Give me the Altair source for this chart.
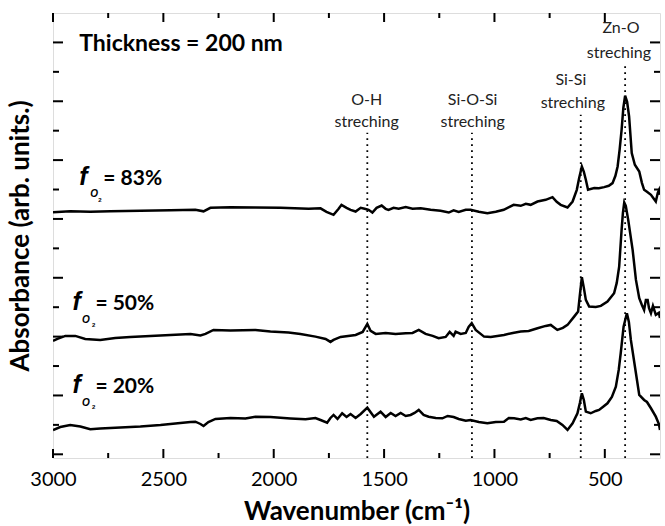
import altair as alt
import pandas as pd

# ---------------- data ----------------
wn_83 = [3000, 2922, 2831, 2740, 2604, 2468, 2355, 2318, 2287, 2196, 2083, 1969, 1842, 1788, 1761,
         1729, 1706, 1693, 1670, 1652, 1629, 1606, 1588, 1570, 1553, 1534, 1511, 1493, 1480, 1457,
         1434, 1402, 1371, 1334, 1289, 1244, 1207, 1185, 1162, 1130, 1108, 1071, 1032, 994, 958,
         913, 881, 858, 836, 805, 768, 737, 718, 700, 669, 646, 627, 616, 604, 595, 586, 576, 548,
         527, 503, 482, 465, 452, 442, 433, 424, 416, 408, 399, 390, 378, 364, 344, 332, 322, 309,
         291, 278, 269, 260, 254, 250]
ab_83 = [24.55, 24.65, 24.6, 24.65, 24.7, 24.75, 24.8, 24.65, 25.0, 25.05, 25.03, 25.0, 24.9, 24.95, 24.6,
         24.3, 24.9, 25.3, 25.0, 24.8, 24.63, 25.0, 24.9, 24.8, 24.53, 25.0, 25.23, 24.9, 24.8, 25.0,
         24.9, 25.07, 24.9, 24.95, 24.8, 24.7, 24.53, 24.75, 24.6, 24.8, 24.8, 24.6, 24.47, 24.6, 24.8,
         25.3, 25.2, 25.4, 25.3, 25.63, 25.8, 26.07, 25.6, 25.3, 25.03, 25.63, 26.8, 28.0, 29.13, 28.6,
         27.8, 26.8, 26.97, 26.95, 27.07, 27.2, 27.47, 28.2, 29.13, 30.8, 32.8, 35.0, 36.2, 35.6, 34.13,
         30.47, 29.3, 28.63, 27.5, 26.8, 26.6, 26.3, 25.9, 25.63, 26.5, 26.8, 26.3]

wn_50 = [3000, 2980, 2944, 2899, 2854, 2786, 2718, 2650, 2559, 2468, 2377, 2332, 2309, 2273, 2196,
         2083, 2015, 1933, 1879, 1811, 1765, 1743, 1729, 1697, 1629, 1597, 1576, 1561, 1538, 1493,
         1448, 1402, 1371, 1343, 1312, 1280, 1253, 1221, 1203, 1185, 1176, 1153, 1130, 1117, 1103,
         1085, 1047, 1017, 957, 917, 881, 845, 805, 768, 745, 715, 690, 669, 639, 621, 613, 604,
         595, 586, 571, 541, 518, 488, 458, 446, 435, 424, 418, 412, 405, 394, 374, 359, 344, 332,
         322, 314, 306, 300, 291, 282, 269, 255, 250]
ab_50 = [11.7, 11.9, 12.2, 12.2, 11.9, 11.8, 12.0, 12.1, 12.2, 12.3, 12.4, 12.25, 12.4, 12.8, 12.75,
         12.8, 12.65, 12.53, 12.4, 12.13, 11.9, 11.6, 11.8, 12.1, 12.3, 12.6, 13.4, 12.7, 12.4, 12.5,
         12.4, 12.47, 12.5, 12.8, 12.4, 12.2, 11.97, 12.1, 12.6, 12.2, 12.63, 12.4, 12.5, 13.1, 13.47,
         12.8, 12.13, 12.1, 12.3, 12.5, 12.63, 12.7, 12.97, 13.2, 13.3, 12.8, 13.0, 13.3, 14.13, 14.63,
         16.3, 18.07, 17.0, 15.8, 15.13, 15.1, 15.2, 15.63, 16.47, 17.5, 19.13, 22.8, 24.5, 25.53, 25.2,
         23.8, 20.8, 17.8, 15.97, 15.3, 14.8, 15.8, 15.8, 15.0, 14.47, 15.2, 14.3, 14.5, 14.0]

wn_20 = [3000, 2967, 2922, 2876, 2831, 2786, 2695, 2604, 2513, 2423, 2377, 2355, 2332, 2318, 2296,
         2264, 2196, 2128, 2083, 2015, 1924, 1856, 1811, 1788, 1758, 1743, 1729, 1711, 1690, 1670,
         1652, 1629, 1606, 1576, 1546, 1516, 1493, 1470, 1448, 1425, 1402, 1380, 1362, 1343, 1321,
         1298, 1266, 1236, 1212, 1185, 1162, 1130, 1108, 1071, 1032, 994, 957, 935, 911, 881, 858,
         836, 805, 777, 745, 718, 692, 669, 646, 624, 613, 604, 595, 586, 564, 541, 526, 509, 488,
         468, 450, 437, 428, 415, 400, 391, 382, 359, 344, 322, 309, 291, 269, 255, 250]
ab_20 = [2.8, 3.1, 3.3, 3.15, 2.87, 2.95, 3.05, 3.15, 3.3, 3.5, 3.6, 3.63, 3.4, 3.2, 3.6,
         3.9, 4.0, 3.95, 4.13, 4.1, 3.95, 3.87, 4.0, 3.8, 3.53, 4.0, 4.3, 3.9, 4.47, 4.1,
         4.4, 4.0, 4.4, 5.03, 4.13, 4.63, 4.1, 4.5, 4.2, 4.5, 4.2, 4.3, 4.5, 4.8, 4.3,
         4.13, 4.0, 3.97, 4.2, 4.1, 3.9, 3.73, 3.8, 3.6, 3.47, 3.6, 3.63, 4.0, 3.97, 3.85, 4.0,
         3.8, 3.97, 4.0, 3.8, 3.7, 3.3, 2.8, 3.47, 4.47, 5.5, 6.47, 5.8, 4.63, 4.47, 4.7, 4.8, 5.1, 5.47,
         6.1, 7.13, 8.8, 10.47, 13.13, 14.47, 13.6, 11.8, 8.47, 6.3, 5.8, 5.6, 4.97, 4.13, 3.4, 2.8]

# assignment lines (cm^-1) and their labels
peak_wn = [1576, 1102, 609, 408]
peak_top = [32.5, 32.5, 34.3, 39.3]
peak_name = ["O-H", "Si-O-Si", "Si-Si", "Zn-O"]
peak_name_wn = [1579, 1099, 654, 427]
peak_name_ab = [35.8, 35.8, 37.8, 43.0]
peak_sub_wn = [1579, 1099, 645, 436]
peak_sub_ab = [33.6, 33.6, 35.5, 40.5]

# axis tick values
x_major = [3000, 2500, 2000, 1500, 1000, 500]
x_minor = [2750, 2250, 1750, 1250, 750]
y_major = [0.37, 6.25, 12.13, 18.01, 23.89, 29.77, 35.65, 41.53]
y_minor = [3.31, 9.19, 15.07, 20.95, 26.83, 32.71, 38.59]

# ---------------- build tables ----------------
curves = pd.concat([
    pd.DataFrame({"wn": wn_83, "ab": ab_83, "s": "83"}),
    pd.DataFrame({"wn": wn_50, "ab": ab_50, "s": "50"}),
    pd.DataFrame({"wn": wn_20, "ab": ab_20, "s": "20"}),
])

W, H = 607, 445
FONT = "Lato"
IFONT = "Liberation Sans"
xs = alt.Scale(domain=[250, 3000], reverse=True, nice=False, zero=False)
ys = alt.Scale(domain=[0, 44.47], nice=False, zero=False)
X = lambda f: alt.X(f, type="quantitative", scale=xs)
Y = lambda f: alt.Y(f, type="quantitative", scale=ys)

base = alt.Chart(curves).mark_line(color="black", strokeWidth=2.5, clip=True).encode(
    x=alt.X("wn:Q", scale=xs,
            axis=alt.Axis(values=x_major, ticks=False, tickSize=0, domain=False, grid=False,
                          labelFontSize=20, labelFont=FONT, labelColor="black", labelPadding=11,
                          labelFlush=False, format="d",
                          title="Wavenumber (cm⁻¹)", titleFontSize=26, titleFont=FONT,
                          titleFontWeight="bold", titleColor="black", titlePadding=9)),
    y=alt.Y("ab:Q", scale=ys,
            axis=alt.Axis(labels=False, ticks=False, tickSize=0, domain=False, grid=False,
                          title="Absorbance (arb. units.)", titleFontSize=26, titleFont=FONT,
                          titleFontWeight="bold", titleColor="black", titlePadding=20)),
    detail="s:N",
)

# dotted assignment lines
pk = pd.DataFrame({"wn": peak_wn, "top": peak_top, "bot": [0] * 4})
dots = alt.Chart(pk).mark_rule(color="black", strokeWidth=1.8, strokeDash=[1.8, 4.2]).encode(
    x=X("wn"), y=Y("bot"), y2="top:Q")

lab = pd.DataFrame({"wn": peak_name_wn, "ab": peak_name_ab, "t": peak_name})
sub = pd.DataFrame({"wn": peak_sub_wn, "ab": peak_sub_ab, "t": ["streching"] * 4})
labels1 = alt.Chart(lab).mark_text(font=FONT, fontSize=16, color="#222", baseline="middle").encode(
    x=X("wn"), y=Y("ab"), text="t:N")
labels2 = alt.Chart(sub).mark_text(font=FONT, fontSize=16, color="#222", baseline="middle").encode(
    x=X("wn"), y=Y("ab"), text="t:N")

thick = alt.Chart(pd.DataFrame({"wn": [2881], "ab": [40.63], "t": ["Thickness = 200 nm"]})).mark_text(
    font=FONT, fontSize=23, fontWeight="bold", align="left", baseline="alphabetic", color="black"
).encode(x=X("wn"), y=Y("ab"), text="t:N")

# f_O2 labels
f_df = pd.DataFrame({"wn": [2881, 2912, 2912], "ab": [27.3, 14.8, 6.47]})
o_df = pd.DataFrame({"wn": [2831, 2869, 2869], "ab": [26.13, 13.47, 5.2]})
two_df = pd.DataFrame({"wn": [2795, 2823, 2823], "ab": [25.63, 13.13, 4.87]})
pct_df = pd.DataFrame({"wn": [2772, 2808, 2808], "ab": [27.3, 14.8, 6.47],
                       "t": ["= 83%", "= 50%", "= 20%"]})
f_txt = alt.Chart(f_df).mark_text(font=IFONT, fontSize=25, fontWeight="bold", fontStyle="italic",
                                  align="left", baseline="alphabetic", color="black", text="f").encode(
    x=X("wn"), y=Y("ab"))
o_txt = alt.Chart(o_df).mark_text(font=IFONT, fontSize=10, fontWeight="bold", fontStyle="italic",
                                  align="left", baseline="alphabetic", color="black", text="O").encode(
    x=X("wn"), y=Y("ab"))
two_txt = alt.Chart(two_df).mark_text(font=IFONT, fontSize=6, fontWeight="bold",
                                      align="left", baseline="alphabetic", color="black", text="2").encode(
    x=X("wn"), y=Y("ab"))
pct_txt = alt.Chart(pct_df).mark_text(font=FONT, fontSize=21, fontWeight="bold",
                                      align="left", baseline="alphabetic", color="black").encode(
    x=X("wn"), y=Y("ab"), text="t:N")

# inward ticks on all four sides
tick_style = dict(color="black", strokeWidth=2)
xM = pd.DataFrame({"v": x_major})
xm = pd.DataFrame({"v": x_minor})
yM = pd.DataFrame({"v": y_major})
ym = pd.DataFrame({"v": y_minor})
ticks = [
    alt.Chart(xM).mark_rule(**tick_style).encode(x=X("v"), y=alt.value(H), y2=alt.value(H - 9)),
    alt.Chart(xm).mark_rule(**tick_style).encode(x=X("v"), y=alt.value(H), y2=alt.value(H - 5)),
    alt.Chart(xM).mark_rule(**tick_style).encode(x=X("v"), y=alt.value(0), y2=alt.value(9)),
    alt.Chart(xm).mark_rule(**tick_style).encode(x=X("v"), y=alt.value(0), y2=alt.value(5)),
    alt.Chart(yM).mark_rule(**tick_style).encode(y=Y("v"), x=alt.value(0), x2=alt.value(10)),
    alt.Chart(ym).mark_rule(**tick_style).encode(y=Y("v"), x=alt.value(0), x2=alt.value(6)),
    alt.Chart(yM).mark_rule(**tick_style).encode(y=Y("v"), x=alt.value(W), x2=alt.value(W - 10)),
    alt.Chart(ym).mark_rule(**tick_style).encode(y=Y("v"), x=alt.value(W), x2=alt.value(W - 6)),
]

chart = alt.layer(base, dots, labels1, labels2, thick, f_txt, o_txt, two_txt, pct_txt, *ticks).properties(
    width=W, height=H,
    autosize=alt.AutoSizeParams(type="none"),
    padding={"left": 53, "top": 13, "right": 5, "bottom": 68},
).configure_view(stroke="black", strokeWidth=2.5).configure(background="white")

chart.save("out.html", embed_options={"renderer": "svg", "actions": False})
